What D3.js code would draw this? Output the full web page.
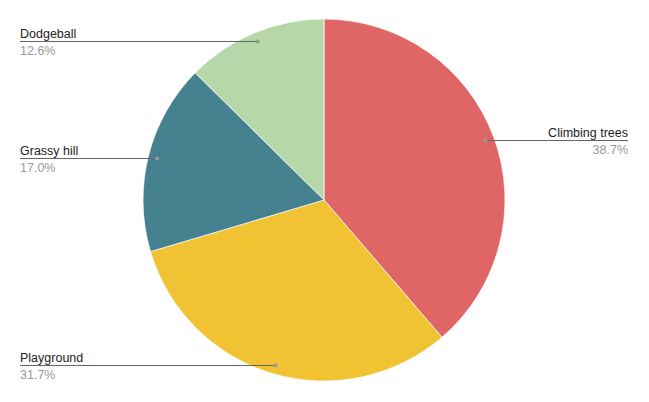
<!DOCTYPE html>
<html>
<head>
<meta charset="utf-8">
<script src="https://cdn.jsdelivr.net/npm/d3@7"></script>
<style>
  body { margin: 0; background: #fff; }
  svg { display: block; font-family: "Liberation Sans", Arial, sans-serif; }
</style>
</head>
<body>
<svg></svg>
<script>
// data, clockwise from 12 o'clock
var categories = ["Climbing trees", "Playground", "Grassy hill", "Dodgeball"];
var values = [38.7, 31.7, 17.0, 12.6];
var colors = ["#e06666", "#f1c232", "#45818e", "#b6d7a8"];

var width = 649, height = 402;
var cx = 324, cy = 200, radius = 181;

var svg = d3.select("svg")
  .attr("width", width)
  .attr("height", height);

var data = categories.map(function (c, i) {
  return { name: c, value: values[i], color: colors[i] };
});

var pie = d3.pie().sort(null).value(function (d) { return d.value; });
var arcs = pie(data);

var arc = d3.arc().innerRadius(0).outerRadius(radius);
var dotArc = d3.arc().innerRadius(172).outerRadius(172);

var g = svg.append("g").attr("transform", "translate(" + cx + "," + cy + ")");

g.selectAll("path.slice")
  .data(arcs)
  .enter()
  .append("path")
  .attr("class", "slice")
  .attr("d", arc)
  .attr("fill", function (d) { return d.data.color; })
  .attr("stroke", "#fff")
  .attr("stroke-width", 0.7);

// leader lines + labels
var labels = svg.selectAll("g.label")
  .data(arcs)
  .enter()
  .append("g")
  .attr("class", "label");

labels.each(function (d) {
  var p = dotArc.centroid(d);
  var px = cx + p[0], py = Math.round(cy + p[1]) + 0.5;
  var right = px > cx;
  var sel = d3.select(this);
  var x0 = right ? px : 20, x1 = right ? 628 : px;

  sel.append("line")
    .attr("x1", x0).attr("x2", x1)
    .attr("y1", py).attr("y2", py)
    .attr("stroke", "#666")
    .attr("stroke-width", 1);

  sel.append("circle")
    .attr("cx", px).attr("cy", py)
    .attr("r", 2)
    .attr("fill", "#999");

  var tx = right ? 628 : 20;
  var anchor = right ? "end" : "start";

  sel.append("text")
    .attr("x", tx).attr("y", py - 4)
    .attr("text-anchor", anchor)
    .attr("font-size", "12.5px")
    .attr("fill", "#222")
    .text(d.data.name);

  sel.append("text")
    .attr("x", tx).attr("y", py + 13)
    .attr("text-anchor", anchor)
    .attr("font-size", "12.5px")
    .attr("fill", "#999")
    .text(d.data.value.toFixed(1) + "%");
});
</script>
</body>
</html>
